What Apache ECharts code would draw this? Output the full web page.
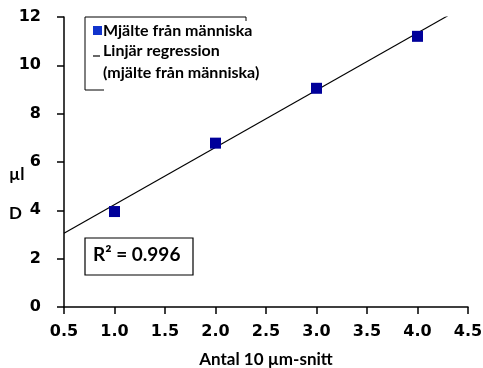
<!DOCTYPE html>
<html><head><meta charset="utf-8">
<script src="https://cdn.jsdelivr.net/npm/echarts@6/dist/echarts.min.js"></script>
<style>html,body{margin:0;padding:0;background:#fff}#c{width:483px;height:368px}</style>
</head><body><div id="c"></div>
<script>
const xValues = [1.0, 2.0, 3.0, 4.0];
const yValues = [3.95, 6.78, 9.05, 11.2];
const regX = [0.5, 4.3];
const regY = [3.05, 12.05];
const xTicks = ['0.5','1.0','1.5','2.0','2.5','3.0','3.5','4.0','4.5'];
const yTicks = ['0','2','4','6','8','10','12'];
const seriesName = 'Mjälte från människa';
const regName1 = 'Linjär regression';
const regName2 = '(mjälte från människa)';
const xTitle = 'Antal 10 µm-snitt';
const r2Text = 'R² = 0.996';

const FONT = 'Lato';
const TICKFONT = 'DejaVu Sans';
const chart = echarts.init(document.getElementById('c'));
chart.setOption({
  animation: false,
  grid: {left: 64, right: 15, top: 17, bottom: 61, containLabel: false, outerBoundsMode: 'none'},
  xAxis: {
    type: 'value', min: 0.5, max: 4.5, interval: 0.5,
    axisLine: {lineStyle: {color: '#000', width: 1.5}},
    axisTick: {show: true, length: 7, lineStyle: {color: '#000', width: 1.5}},
    splitLine: {show: false},
    axisLabel: {color: '#000', fontSize: 16, fontFamily: TICKFONT, fontWeight: 'bold', margin: 17,
      formatter: v => xTicks[Math.round((v - 0.5) / 0.5)] },
    name: xTitle, nameLocation: 'middle', nameGap: 44,
    nameTextStyle: {color: '#000', fontSize: 17, fontFamily: FONT, fontWeight: 'bold'}
  },
  yAxis: {
    type: 'value', min: 0, max: 12, interval: 2,
    axisLine: {show: true, lineStyle: {color: '#000', width: 1.5}},
    axisTick: {show: true, length: 7, lineStyle: {color: '#000', width: 1.5}},
    splitLine: {show: false},
    axisLabel: {color: '#000', fontSize: 16, fontFamily: TICKFONT, fontWeight: 'bold', margin: 23,
      formatter: v => yTicks[Math.round(v / 2)] }
  },
  series: [
    {type: 'line', name: regName1, data: regX.map((x, i) => [x, regY[i]]),
      symbol: 'none', lineStyle: {color: '#000', width: 1.2}, z: 2},
    {type: 'scatter', name: seriesName, data: xValues.map((x, i) => [x, yValues[i]]),
      symbol: 'rect', symbolSize: 11, itemStyle: {color: '#00009a', opacity: 1}, z: 3}
  ],
  graphic: [
    {type: 'polyline', shape: {points: [[85, 90], [85, 17], [246, 17], [246, 21]]}, style: {stroke: '#000', lineWidth: 1, fill: null}},
    {type: 'line', shape: {x1: 85, y1: 90, x2: 104, y2: 90}, style: {stroke: '#000', lineWidth: 1}},
    {type: 'rect', shape: {x: 93, y: 26, width: 9, height: 9}, style: {fill: '#1133cc'}},
    {type: 'text', left: 103, top: 23, style: {text: seriesName, font: 'bold 16px ' + FONT, fill: '#000'}},
    {type: 'line', shape: {x1: 93, y1: 56, x2: 100, y2: 56}, style: {stroke: '#000', lineWidth: 1.2}},
    {type: 'text', left: 103, top: 43, style: {text: regName1, font: 'bold 16px ' + FONT, fill: '#000'}},
    {type: 'text', left: 103, top: 65, style: {text: regName2, font: 'bold 16px ' + FONT, fill: '#000'}},
    {type: 'rect', shape: {x: 85, y: 238, width: 108, height: 37}, style: {fill: '#fff', stroke: '#000', lineWidth: 1.2}, z: 10},
    {type: 'text', left: 93, top: 245, z: 11, style: {text: r2Text, font: 'bold 19px ' + FONT, fill: '#000'}},
    {type: 'text', left: 9, top: 166, style: {text: 'µl', font: 'bold 17px ' + FONT, fill: '#000'}},
    {type: 'text', left: 9, top: 205, style: {text: 'D', font: 'bold 17px ' + FONT, fill: '#000'}}
  ]
});
</script></body></html>
